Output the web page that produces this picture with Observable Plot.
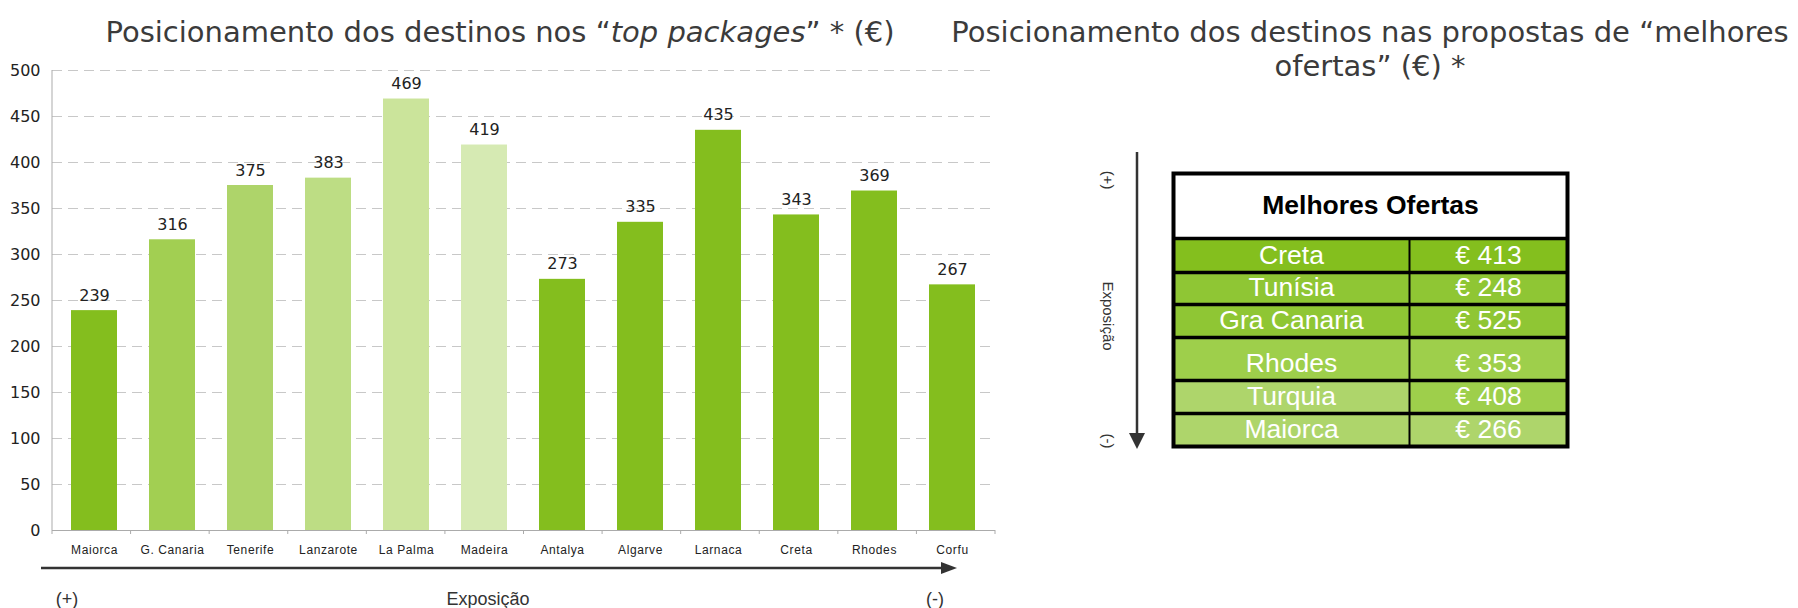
<!DOCTYPE html>
<html>
<head>
<meta charset="utf-8">
<script src="https://cdn.jsdelivr.net/npm/d3@7"></script>
<script src="https://cdn.jsdelivr.net/npm/@observablehq/plot@0.6"></script>
<style>
  html, body { margin: 0; padding: 0; background: #fff; }
  #root { position: relative; width: 1798px; height: 608px; overflow: hidden; background: #fff; }
  .title { position: absolute; font-family: "DejaVu Sans", sans-serif; font-size: 29px; color: #3b3b3b; text-align: center; white-space: nowrap; }
  .abs { position: absolute; }
</style>
</head>
<body>
<div id="root">
  <div class="title" style="left:0px; top:15px; width:1000px; line-height:34px;">Posicionamento dos destinos nos “<i>top packages</i>” * (€)</div>
  <div class="title" style="left:920px; top:15px; width:900px; line-height:34px;">Posicionamento dos destinos nas propostas de “melhores<br>ofertas” (€) *</div>
  <div id="bars" class="abs" style="left:0px; top:50px;"></div>
  <div id="table" class="abs" style="left:1170px; top:170px;"></div>
  <svg id="annot" class="abs" style="left:0; top:0; pointer-events:none;" width="1798" height="608"></svg>
</div>
<script>
// ---- data ----
const destinations = ["Maiorca", "G. Canaria", "Tenerife", "Lanzarote", "La Palma", "Madeira", "Antalya", "Algarve", "Larnaca", "Creta", "Rhodes", "Corfu"];
const prices = [239, 316, 375, 383, 469, 419, 273, 335, 435, 343, 369, 267];
const yTicks = [0, 50, 100, 150, 200, 250, 300, 350, 400, 450, 500];

const offerTitle = "Melhores Ofertas";
const offerDestinations = ["Creta", "Tunísia", "Gra Canaria", "Rhodes", "Turquia", "Maiorca"];
const offerPrices = [413, 248, 525, 353, 408, 266];

const axisText = { plus: "(+)", minus: "(-)", label: "Exposição" };

// ---- styles ----
const barColors = ["#84be1e", "#a2cf52", "#aed46a", "#bddd84", "#cbe49b", "#d6eab3", "#84be1e", "#84be1e", "#84be1e", "#84be1e", "#84be1e", "#84be1e"];
const destColors = ["#84bf1e", "#8fc634", "#8fc634", "#9ecf4b", "#aed56b", "#aed56b"];
const priceColors = ["#84bf1e", "#8fc634", "#8fc634", "#9ecf4b", "#9ecf4b", "#aed56b"];

// ---- bar chart ----
const barData = destinations.map((d, i) => ({ dest: d, price: prices[i] }));
const barChart = Plot.plot({
  width: 1010,
  height: 510,
  marginTop: 20,
  marginBottom: 30,
  marginLeft: 52,
  marginRight: 15,
  style: { fontFamily: "DejaVu Sans, sans-serif", fontSize: "16px", color: "#222", background: "transparent", overflow: "visible" },
  x: { domain: destinations, paddingInner: 0.41, paddingOuter: 0.205, label: null },
  y: { domain: [0, 500], label: null },
  color: { type: "ordinal", domain: destinations, range: barColors },
  marks: [
    Plot.gridY({ ticks: yTicks.slice(1), stroke: "#c8c8c8", strokeOpacity: 1, strokeDasharray: "10,6" }),
    Plot.barY(barData, { x: "dest", y: "price", fill: "dest" }),
    Plot.ruleY([0], { stroke: "#ababab", strokeWidth: 1 }),
    Plot.text(barData, { x: "dest", y: "price", text: d => String(d.price), dy: -15, fontSize: 16, fill: "#222" }),
    Plot.axisY({ ticks: yTicks, tickSize: 0, tickPadding: 12, fontSize: 16, label: null }),
    Plot.axisX({ tickSize: 0, tickPadding: 15, fontSize: 12, fontFamily: "Liberation Sans, Arial, sans-serif", label: null })
  ]
});
document.getElementById("bars").appendChild(barChart);

// Excel-like axis line and boundary ticks from the Plot scales
(function () {
  const svg = d3.select(barChart);
  const xs = barChart.scale("x");
  const ys = barChart.scale("y");
  const x0 = xs.range[0], x1 = xs.range[1];
  const step = (x1 - x0) / destinations.length;
  const yTop = ys.apply(d3.max(yTicks)), yBot = ys.apply(0);
  const g = svg.append("g").attr("stroke", "#ababab").attr("stroke-width", 1);
  g.append("line").attr("x1", x0).attr("x2", x0).attr("y1", yTop).attr("y2", yBot);
  d3.range(destinations.length + 1).forEach(k => {
    const x = x0 + k * step;
    g.append("line").attr("x1", x).attr("x2", x).attr("y1", yBot).attr("y2", yBot + 4);
  });
  svg.selectAll("g[aria-label='x-axis tick label'] text").style("letter-spacing", "0.6px");
})();

// ---- offers table ----
const cells = offerDestinations.flatMap((d, i) => [
  { row: i + 1, col: 0, label: d, fill: destColors[i] },
  { row: i + 1, col: 1, label: "€ " + offerPrices[i], fill: priceColors[i] }
]);
const tableFont = "Liberation Sans, Arial, sans-serif";
const tableChart = Plot.plot({
  width: 400,
  height: 279,
  margin: 3,
  style: { background: "transparent", overflow: "visible" },
  x: { type: "linear", domain: [0, 1, 2], range: [3, 239, 397], axis: null },
  y: { type: "linear", domain: d3.range(offerDestinations.length + 2), range: [3, 68, 102, 134, 167, 210, 243, 276], axis: null },
  marks: [
    Plot.rect([offerTitle], { x1: 0, x2: 2, y1: 0, y2: 1, fill: "white" }),
    Plot.rect(cells, { x1: "col", x2: d => d.col + 1, y1: "row", y2: d => d.row + 1, fill: d => d.fill }),
    Plot.text([offerTitle], { frameAnchor: "middle", y: 0.5, text: d => d, fontSize: 26.5, fontWeight: "bold", fontFamily: tableFont, fill: "black" }),
    Plot.text(cells, { x: d => d.col + 0.5, y: d => d.row + 1, dy: -17, text: "label", fontSize: 26.5, fontFamily: tableFont, fill: "white" }),
    Plot.ruleY(d3.range(1, offerDestinations.length + 1), { stroke: "black", strokeWidth: 3.5 }),
    Plot.ruleX([1], { y1: 1, y2: offerDestinations.length + 1, stroke: "black", strokeWidth: 2 }),
    Plot.frame({ stroke: "black", strokeWidth: 4 })
  ]
});
document.getElementById("table").appendChild(tableChart);

// ---- annotation arrows ----
(function () {
  const a = d3.select("#annot");
  const font = "Liberation Sans, Arial, sans-serif";
  // horizontal
  a.append("line").attr("x1", 41).attr("x2", 943).attr("y1", 568).attr("y2", 568).attr("stroke", "#333").attr("stroke-width", 2.5);
  a.append("polygon").attr("points", "941,562 957,568 941,574").attr("fill", "#333");
  [[67, axisText.plus], [488, axisText.label], [935, axisText.minus]].forEach(([x, t]) => {
    a.append("text").attr("x", x).attr("y", 599).attr("text-anchor", "middle").attr("dominant-baseline", "central")
      .attr("font-family", font).attr("font-size", 18).attr("fill", "#333").text(t);
  });
  // vertical
  a.append("line").attr("x1", 1137).attr("x2", 1137).attr("y1", 152).attr("y2", 435).attr("stroke", "#333").attr("stroke-width", 2.5);
  a.append("polygon").attr("points", "1129,433 1145,433 1137,449").attr("fill", "#333");
  [[180, axisText.plus], [316, axisText.label], [441, axisText.minus]].forEach(([y, t]) => {
    a.append("text").attr("transform", `translate(1108,${y}) rotate(90)`).attr("text-anchor", "middle").attr("dominant-baseline", "central")
      .attr("font-family", font).attr("font-size", 15).attr("fill", "#333").text(t);
  });
})();
</script>
</body>
</html>
